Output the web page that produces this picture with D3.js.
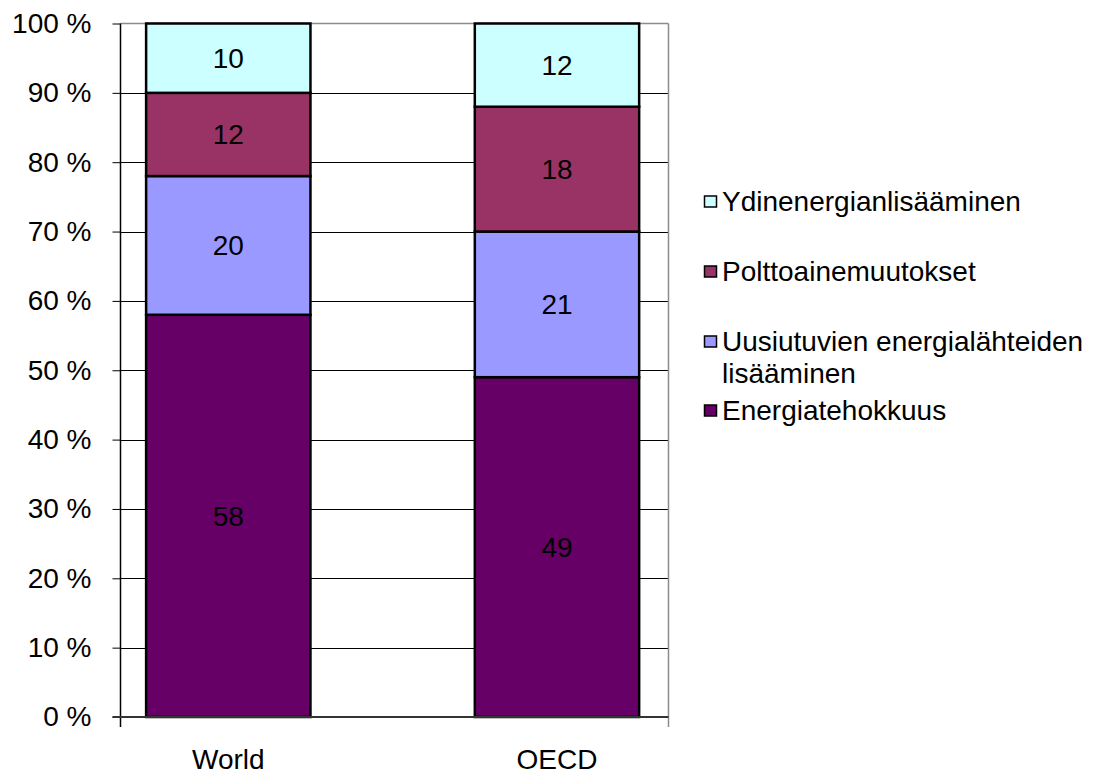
<!DOCTYPE html>
<html>
<head>
<meta charset="utf-8">
<script src="https://cdn.jsdelivr.net/npm/d3@7"></script>
<style>
  html, body { margin: 0; padding: 0; background: #fff; }
  svg { display: block; font-family: "Liberation Sans", Arial, sans-serif; }
</style>
</head>
<body>
<svg id="chart" width="1098" height="776"></svg>
<script>
// ---- data ----
const categories = ["World", "OECD"];
const seriesNames = [
  "Energiatehokkuus",
  "Uusiutuvien energialähteiden lisääminen",
  "Polttoainemuutokset",
  "Ydinenergianlisääminen"
];
const energiatehokkuus = [58, 49];
const uusiutuvat = [20, 21];
const polttoaine = [12, 18];
const ydinenergia = [10, 12];
const seriesColors = ["#660066", "#9999FF", "#993366", "#CCFFFF"];
const yTickValues = [0, 10, 20, 30, 40, 50, 60, 70, 80, 90, 100];
const legendLines = [
  ["Ydinenergianlisääminen"],
  ["Polttoainemuutokset"],
  ["Uusiutuvien energialähteiden", "lisääminen"],
  ["Energiatehokkuus"]
];

// ---- layout ----
const svg = d3.select("#chart");
const pLeft = 120.5, pRight = 668.5, pTop = 23.5, pBottom = 717;
const fontSize = 28;

const x = d3.scaleBand().domain(categories).range([pLeft, pRight])
  .paddingInner(0.5).paddingOuter(0.0836).align(0.466);
const y = d3.scaleLinear().domain([0, 100]).range([pBottom, pTop]);

const rows = categories.map((c, i) => ({
  cat: c,
  s0: energiatehokkuus[i],
  s1: uusiutuvat[i],
  s2: polttoaine[i],
  s3: ydinenergia[i]
}));
const stacked = d3.stack().keys(["s0", "s1", "s2", "s3"])(rows);

// gridlines
const grid = svg.append("g");
yTickValues.filter(v => v > 0 && v < 100).forEach(v => {
  grid.append("line")
    .attr("x1", pLeft).attr("x2", pRight)
    .attr("y1", Math.round(y(v)) + 0.5).attr("y2", Math.round(y(v)) + 0.5)
    .attr("stroke", "#000").attr("stroke-width", 1);
});
// plot border top & right (gray)
svg.append("line").attr("x1", pLeft).attr("x2", pRight)
  .attr("y1", pTop).attr("y2", pTop).attr("stroke", "#8c8c8c").attr("stroke-width", 1.5);
svg.append("line").attr("x1", pRight).attr("x2", pRight)
  .attr("y1", pTop).attr("y2", pBottom + 10).attr("stroke", "#8c8c8c").attr("stroke-width", 1.5);

// bars
stacked.forEach((layer, si) => {
  svg.append("g").selectAll("rect").data(layer).join("rect")
    .attr("x", d => x(d.data.cat))
    .attr("width", x.bandwidth())
    .attr("y", d => y(d[1]))
    .attr("height", d => y(d[0]) - y(d[1]))
    .attr("fill", seriesColors[si])
    .attr("stroke", "#000")
    .attr("stroke-width", 2.5);
});

// data labels
stacked.forEach((layer, si) => {
  svg.append("g").selectAll("text").data(layer).join("text")
    .attr("x", d => x(d.data.cat) + x.bandwidth() / 2)
    .attr("y", d => (y(d[0]) + y(d[1])) / 2)
    .attr("dy", "0.35em")
    .attr("text-anchor", "middle")
    .attr("font-size", fontSize)
    .attr("fill", "#000")
    .text(d => d[1] - d[0]);
});

// y axis
const yAxis = d3.axisLeft(y).tickValues(yTickValues)
  .tickSize(8).tickSizeOuter(0).tickPadding(21)
  .tickFormat(d => d + " %");
const ya = svg.append("g").attr("transform", `translate(${pLeft},0)`).call(yAxis);
ya.select(".domain").remove();
ya.selectAll(".tick line").attr("stroke", "#000").attr("stroke-width", 1);
ya.selectAll(".tick text").attr("font-size", fontSize).attr("fill", "#000")
  .attr("font-family", "Liberation Sans, Arial, sans-serif");
svg.append("line").attr("x1", pLeft).attr("x2", pLeft)
  .attr("y1", pTop).attr("y2", pBottom + 10).attr("stroke", "#000").attr("stroke-width", 1.5);

// x axis
svg.append("line").attr("x1", pLeft - 8).attr("x2", pRight)
  .attr("y1", pBottom).attr("y2", pBottom).attr("stroke", "#333").attr("stroke-width", 2);
svg.append("g").selectAll("text").data(categories).join("text")
  .attr("x", d => x(d) + x.bandwidth() / 2)
  .attr("y", pBottom + 52)
  .attr("text-anchor", "middle")
  .attr("font-size", fontSize)
  .attr("fill", "#000")
  .text(d => d);

// legend
const legendBaselines = [211, 281, 351, 420];
const legendColors = [seriesColors[3], seriesColors[2], seriesColors[1], seriesColors[0]];
const lg = svg.append("g");
legendLines.forEach((lines, i) => {
  const b = legendBaselines[i];
  lg.append("rect")
    .attr("x", 704.5).attr("y", b - 15)
    .attr("width", 12).attr("height", 11)
    .attr("fill", legendColors[i]).attr("stroke", "#000").attr("stroke-width", 1.5);
  const t = lg.append("text")
    .attr("x", 722).attr("y", b)
    .attr("font-size", fontSize).attr("fill", "#000");
  lines.forEach((ln, j) => {
    t.append("tspan").attr("x", 722).attr("y", b + j * 32).text(ln);
  });
});
</script>
</body>
</html>
